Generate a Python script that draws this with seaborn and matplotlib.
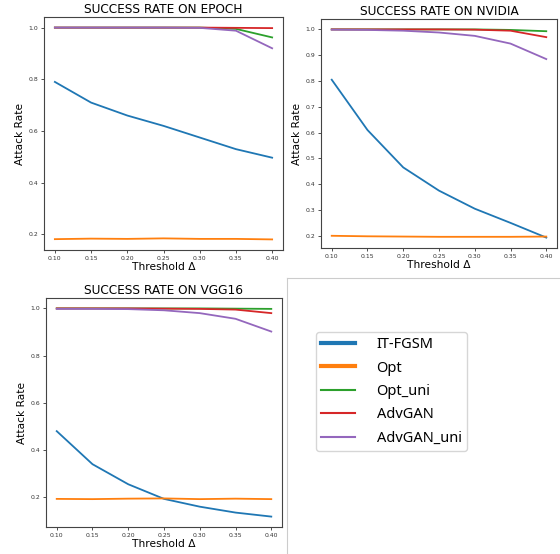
import numpy as np
import pandas as pd
import matplotlib
matplotlib.use("Agg")
import matplotlib.pyplot as plt
from matplotlib.lines import Line2D
import seaborn as sns

# thresholds on x axis
thresholds = [0.10, 0.15, 0.20, 0.25, 0.30, 0.35, 0.40]
methods = ["IT-FGSM", "Opt", "Opt_uni", "AdvGAN", "AdvGAN_uni"]

# EPOCH
epoch_itfgsm = [0.79, 0.71, 0.66, 0.62, 0.575, 0.53, 0.497]
epoch_opt = [0.182, 0.184, 0.183, 0.185, 0.183, 0.183, 0.181]
epoch_opt_uni = [1.0, 1.0, 1.0, 1.0, 1.0, 0.995, 0.962]
epoch_advgan = [1.0, 1.0, 1.0, 1.0, 1.0, 0.999, 0.998]
epoch_advgan_uni = [1.0, 1.0, 1.0, 1.0, 0.999, 0.988, 0.92]

# NVIDIA
nvidia_itfgsm = [0.805, 0.61, 0.465, 0.375, 0.305, 0.25, 0.193]
nvidia_opt = [0.2, 0.198, 0.197, 0.196, 0.196, 0.196, 0.197]
nvidia_opt_uni = [1.0, 1.0, 1.0, 1.0, 1.0, 0.998, 0.993]
nvidia_advgan = [1.0, 1.0, 1.0, 1.0, 0.999, 0.995, 0.97]
nvidia_advgan_uni = [0.999, 0.998, 0.995, 0.988, 0.975, 0.945, 0.885]

# VGG16
vgg_itfgsm = [0.48, 0.34, 0.255, 0.193, 0.16, 0.135, 0.118]
vgg_opt = [0.193, 0.192, 0.194, 0.195, 0.192, 0.194, 0.192]
vgg_opt_uni = [1.0, 1.0, 1.0, 1.0, 1.0, 0.999, 0.998]
vgg_advgan = [1.0, 1.0, 1.0, 0.999, 0.998, 0.995, 0.98]
vgg_advgan_uni = [0.998, 0.998, 0.997, 0.992, 0.98, 0.956, 0.902]


def to_long(series_list):
    rows = []
    for name, vals in zip(methods, series_list):
        for t, v in zip(thresholds, vals):
            rows.append({"threshold": t, "rate": v, "method": name})
    return pd.DataFrame(rows)


panels = [
    ("SUCCESS RATE ON EPOCH",
     [epoch_itfgsm, epoch_opt, epoch_opt_uni, epoch_advgan, epoch_advgan_uni],
     [44, 17, 283, 250], np.arange(0.2, 1.01, 0.2)),
    ("SUCCESS RATE ON NVIDIA",
     [nvidia_itfgsm, nvidia_opt, nvidia_opt_uni, nvidia_advgan, nvidia_advgan_uni],
     [321, 19, 557, 248], np.arange(0.2, 1.01, 0.1)),
    ("SUCCESS RATE ON VGG16",
     [vgg_itfgsm, vgg_opt, vgg_opt_uni, vgg_advgan, vgg_advgan_uni],
     [46, 298, 282, 527], np.arange(0.2, 1.01, 0.2)),
]

W, H = 560, 554
palette = sns.color_palette("tab10", 5)

fig = plt.figure(figsize=(W / 100, H / 100), dpi=100)

for title, data, (x0, y0, x1, y1), yt in panels:
    ax = fig.add_axes([x0 / W, 1 - y1 / H, (x1 - x0) / W, (y1 - y0) / H])
    df = to_long(data)
    sns.lineplot(data=df, x="threshold", y="rate", hue="method",
                 hue_order=methods, palette=palette, linewidth=1.3,
                 legend=False, ax=ax)
    ax.set_title(title, fontsize=8.7, pad=3)
    ax.set_xlabel("Threshold Δ", fontsize=7.7, labelpad=1)
    ax.set_ylabel("Attack Rate", fontsize=7.7, labelpad=3)
    ax.set_xticks(thresholds)
    ax.set_xticklabels([f"{t:.2f}" for t in thresholds])
    ax.set_yticks(yt)
    ax.set_yticklabels([f"{v:.1f}" for v in yt])
    ax.tick_params(labelsize=4.4, length=2, width=0.6, pad=2, colors="#333333")
    for s in ax.spines.values():
        s.set_color("#444444")
        s.set_linewidth(0.8)

# light frame around the legend panel
fig.add_artist(Line2D([287 / W, 287 / W], [0, 1 - 278 / H], color="#cccccc", lw=0.8))
fig.add_artist(Line2D([287 / W, 1], [1 - 278 / H, 1 - 278 / H], color="#cccccc", lw=0.8))

widths = [3, 3, 1.5, 1.5, 1.5]
handles = [Line2D([], [], color=c, lw=w) for c, w in zip(palette, widths)]
fig.legend(handles, methods, loc="upper left",
           bbox_to_anchor=(316 / W, 1 - 332 / H), borderaxespad=0,
           prop={"family": "Noto Sans", "size": 10.5},
           handlelength=2.3, handletextpad=1.5,
           labelspacing=0.58, borderpad=0.35, frameon=True,
           fancybox=True, edgecolor="#cccccc")

fig.savefig("out.png", dpi=100)
